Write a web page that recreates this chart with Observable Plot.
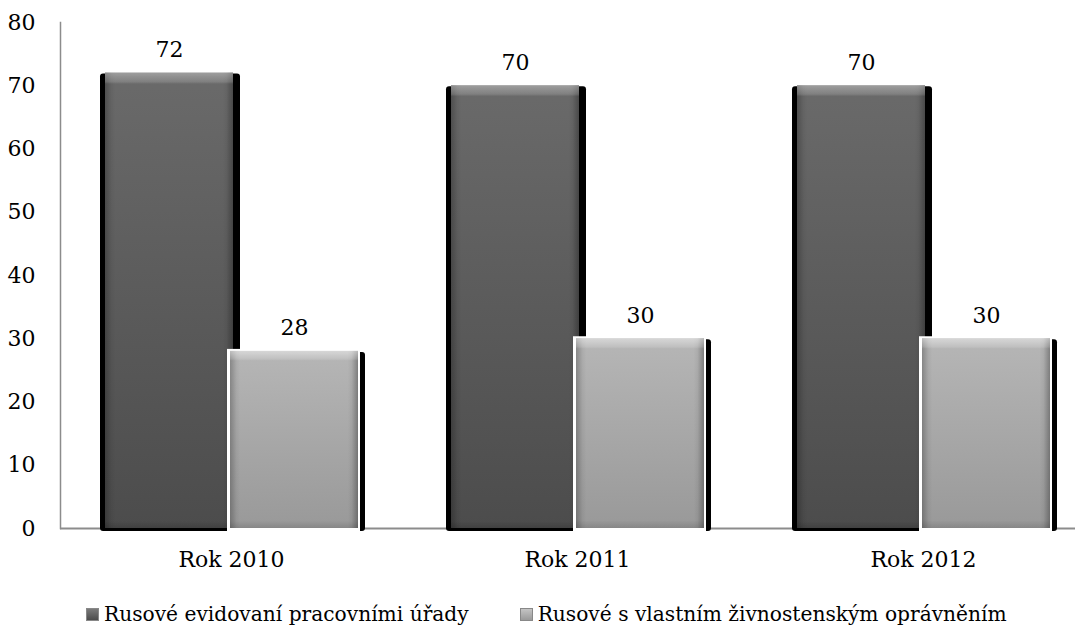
<!DOCTYPE html>
<html><head><meta charset="utf-8">
<script src="https://cdn.jsdelivr.net/npm/d3@7"></script>
<script src="https://cdn.jsdelivr.net/npm/@observablehq/plot@0.6"></script>
<style>
body{margin:0;background:#fff;font-family:"DejaVu Serif";}
#wrap{position:relative;width:1083px;height:628px;}
#legend{position:absolute;top:602px;left:86px;display:flex;align-items:center;font-size:20.2px;color:#000;white-space:nowrap;}
.item{display:flex;align-items:center;}
.sw{width:13px;height:13px;margin-right:5px;box-sizing:border-box;}
svg text{font-family:"DejaVu Serif";}
</style></head><body><div id="wrap"><div id="chart"></div><div id="legend"></div></div>
<script>
const years = ["Rok 2010", "Rok 2011", "Rok 2012"];
const seriesNames = ["Rusové evidovaní pracovními úřady", "Rusové s vlastním živnostenským oprávněním"];
const evidovani = [72, 70, 70];
const zivnost = [28, 30, 30];
const yTicks = [0, 10, 20, 30, 40, 50, 60, 70, 80];

const darkData = years.map((year, i) => ({year, value: evidovani[i]}));
const lightData = years.map((year, i) => ({year, value: zivnost[i]}));

const FONT = '"DejaVu Serif"';

const plot = Plot.plot({
  width: 1083, height: 590,
  marginLeft: 60, marginRight: 8, marginTop: 22, marginBottom: 62,
  style: {fontFamily: FONT, fontSize: "22px", color: "#000", background: "#fff", overflow: "visible"},
  x: {domain: years, range: [58, 1096], padding: 0, label: null},
  y: {domain: [0, 80], label: null},
  marks: [
    Plot.frame({anchor: "left", stroke: "#8c8c8c", strokeWidth: 1.5}),
    Plot.ruleY([0], {stroke: "#8c8c8c", strokeWidth: 2}),
    Plot.axisY({ticks: yTicks, tickSize: 0, tickPadding: 25, label: null, fill: "#000"}),
    Plot.axisX({tickSize: 0, tickPadding: 23, label: null, fill: "#000"}),
    Plot.barY(darkData, {x: "year", y: "value", fill: "#000", insetLeft: 42, insetRight: 164, insetTop: 1, insetBottom: -3, rx: 3}),
    Plot.barY(darkData, {x: "year", y: "value", fill: "url(#gDark)", insetLeft: 47, insetRight: 171}),
    Plot.barY(darkData, {x: "year", y: "value", fill: "url(#gSides)", insetLeft: 47, insetRight: 171}),
    Plot.barY(darkData, {x: "year", y: "value", fill: "url(#gTopDark)", insetLeft: 47, insetRight: 171}),
    Plot.barY(lightData, {x: "year", y: "value", fill: "#000", insetLeft: 176, insetRight: 39, insetTop: 1, insetBottom: -3, rx: 3}),
    Plot.barY(lightData, {x: "year", y: "value", fill: "#fff", insetLeft: 169, insetRight: 44, insetTop: -2, insetBottom: -3}),
    Plot.barY(lightData, {x: "year", y: "value", fill: "url(#gLight)", insetLeft: 172, insetRight: 46}),
    Plot.barY(lightData, {x: "year", y: "value", fill: "url(#gSides)", insetLeft: 172, insetRight: 46}),
    Plot.barY(lightData, {x: "year", y: "value", fill: "url(#gTopLight)", insetLeft: 172, insetRight: 46}),
    Plot.text(darkData, {x: "year", y: "value", text: d => String(d.value), dx: -62, dy: -16, lineAnchor: "bottom", fill: "#000", fontFamily: FONT}),
    Plot.text(lightData, {x: "year", y: "value", text: d => String(d.value), dx: 63, dy: -16, lineAnchor: "bottom", fill: "#000", fontFamily: FONT})
  ]
});

const svg = d3.select(plot);
const defs = svg.insert("defs", ":first-child");
function grad(id, vertical, stops) {
  const g = defs.append("linearGradient").attr("id", id)
    .attr("x1", 0).attr("y1", 0).attr("x2", vertical ? 0 : 1).attr("y2", vertical ? 1 : 0);
  stops.forEach(([o, c, a]) => g.append("stop").attr("offset", o).attr("stop-color", c).attr("stop-opacity", a));
}
grad("gDark", true, [[0, "#6a6a6a", 1], [1, "#4c4c4c", 1]]);
grad("gLight", true, [[0, "#b6b6b6", 1], [1, "#999999", 1]]);
grad("gSides", false, [[0, "#000", 0.25], [0.05, "#000", 0.05], [0.08, "#000", 0], [0.92, "#000", 0], [0.95, "#000", 0.05], [1, "#000", 0.3]]);
grad("gTopDark", true, [[0, "#fff", 0.35], [0.02, "#fff", 0.15], [0.025, "#fff", 0], [0.985, "#000", 0], [1, "#000", 0.15]]);
grad("gTopLight", true, [[0, "#fff", 0.45], [0.045, "#fff", 0.15], [0.055, "#fff", 0], [0.96, "#000", 0], [1, "#000", 0.12]]);

document.getElementById("chart").appendChild(plot);

const swatches = [
  "linear-gradient(#7a7a7a,#4c4c4c)",
  "linear-gradient(#c4c4c4,#9a9a9a)"
];
const legend = document.getElementById("legend");
seriesNames.forEach((name, i) => {
  const it = document.createElement("div");
  it.className = "item";
  if (i > 0) it.style.marginLeft = "51px";
  const sw = document.createElement("div");
  sw.className = "sw";
  sw.style.background = swatches[i];
  sw.style.border = "1px solid #888";
  it.appendChild(sw);
  const t = document.createElement("span");
  t.textContent = name;
  it.appendChild(t);
  legend.appendChild(it);
});
</script></body></html>
